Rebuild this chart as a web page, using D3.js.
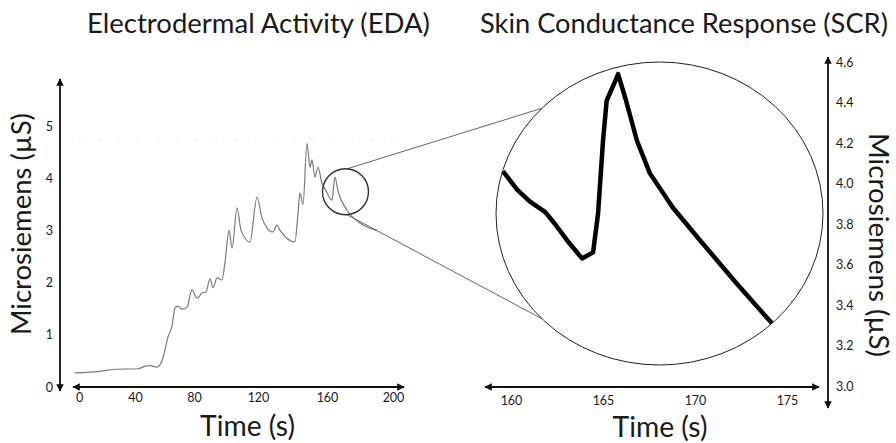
<!DOCTYPE html>
<html>
<head>
<meta charset="utf-8">
<script src="https://cdn.jsdelivr.net/npm/d3@7"></script>
<style>
  html, body { margin: 0; padding: 0; background: #fff; }
  svg { display: block; }
  text { font-family: Lato, "Open Sans", sans-serif; fill: #1a1a1a; }
</style>
</head>
<body>
<svg id="chart" width="896" height="443"></svg>
<script>
// EDA recording (left panel): time in seconds, conductance in microsiemens
const edaTime = [-3, 15, 26, 42, 47, 50, 55, 59, 62.4, 65.1,
  67.1, 69.2, 71.9, 75.3, 78.6, 81.9, 85, 87.5, 90, 91.9,
  94.4, 97.5, 99.4, 101.9, 103.8, 106.9, 109.4, 115, 119.4, 122.3,
  125.2, 128.7, 131, 132.8, 141.4, 143.2, 144.3, 146.1, 148.4, 150.1,
  151.3, 153, 154.8, 157.1, 158.8, 163, 164.8, 166.7, 172.1, 180, 190.3];
const edaValue = [0.27, 0.30, 0.34, 0.35, 0.40, 0.41, 0.38, 0.56, 0.96, 1.17,
  1.51, 1.55, 1.49, 1.53, 1.86, 1.70, 1.80, 1.82, 2.07, 1.90,
  2.09, 2.05, 2.40, 3.00, 2.66, 3.43, 3.00, 2.78, 3.64, 3.24,
  3.05, 2.97, 3.10, 3.00, 2.78, 3.33, 3.72, 3.50, 4.67, 4.21,
  4.35, 4.02, 4.21, 3.90, 3.80, 3.58, 4.02, 3.75, 3.39, 3.14, 3.00];

// Single skin conductance response (right panel)
const scrTime = [159.57, 160.33, 161.03, 161.85, 162.39, 163.04, 163.86, 164.46, 164.73, 165.0,
  165.2, 165.54, 165.82, 166.25, 166.85, 167.55, 168.8, 170.27, 172.23, 174.18];
const scrValue = [4.06, 3.97, 3.91, 3.86, 3.80, 3.72, 3.63, 3.66, 3.85, 4.21,
  4.41, 4.48, 4.54, 4.41, 4.21, 4.05, 3.88, 3.72, 3.51, 3.31];

// Tick labels
const edaTimeTicks = [0, 40, 80, 120, 160, 200];
const edaValueTicks = [0, 1, 2, 3, 4, 5];
const scrTimeTicks = [160, 165, 170, 175];
const scrValueTicks = [3.0, 3.2, 3.4, 3.6, 3.8, 4.0, 4.2, 4.4, 4.6];

// Magnified window on the EDA trace
const zoomWindow = { time: 171.2, value: 3.74 };

const titles = ["Electrodermal Activity (EDA)", "Skin Conductance Response (SCR)"];
const xTitle = "Time (s)";
const yTitle = "Microsiemens (µS)";

const svg = d3.select("#chart");

// arrowhead marker
const defs = svg.append("defs");
defs.append("marker")
  .attr("id", "arrow")
  .attr("viewBox", "0 0 10 10")
  .attr("refX", 9).attr("refY", 5)
  .attr("markerWidth", 4.2).attr("markerHeight", 4.2)
  .attr("markerUnits", "strokeWidth")
  .attr("orient", "auto-start-reverse")
  .append("path")
  .attr("d", "M0,0 L10,5 L0,10 z")
  .attr("fill", "#111");

function fitWidth(sel, w) {
  const len = sel.node().getComputedTextLength();
  const fs = parseFloat(sel.attr("font-size"));
  sel.attr("font-size", fs * w / len);
}

function arrowLine(x1, y1, x2, y2, both) {
  const l = svg.append("line")
    .attr("x1", x1).attr("y1", y1).attr("x2", x2).attr("y2", y2)
    .attr("stroke", "#111").attr("stroke-width", 1.8)
    .attr("marker-end", "url(#arrow)");
  if (both) l.attr("marker-start", "url(#arrow)");
  return l;
}

function styleTicks(g) {
  g.select(".domain").remove();
  g.selectAll("text")
    .attr("font-size", 12.5)
    .attr("font-family", "Lato, sans-serif")
    .attr("fill", "#1a1a1a");
}

// ---------- Left panel: EDA ----------
const xL = d3.scaleLinear().domain(edaTimeTicks).range([79, 135, 194, 258, 327, 393]);
const yL = d3.scaleLinear().domain([0, 5]).range([387, 126]);

// faint reference dots
svg.append("line")
  .attr("x1", xL(0)).attr("x2", xL(200)).attr("y1", yL(4.73)).attr("y2", yL(4.73))
  .attr("stroke", "#e6e6e6").attr("stroke-width", 1).attr("stroke-dasharray", "1.5,18");

arrowLine(60, yL(0) + 4, 60, 79, true);
arrowLine(73, yL(0), 404, yL(0), true);

svg.append("g")
  .attr("transform", `translate(53,0)`)
  .call(d3.axisLeft(yL).tickValues(edaValueTicks).tickSize(0).tickPadding(0).tickFormat(d3.format("d")))
  .call(styleTicks);

svg.append("g")
  .attr("transform", `translate(0,${yL(0) + 6})`)
  .call(d3.axisBottom(xL).tickValues(edaTimeTicks).tickSize(0).tickPadding(0).tickFormat(d3.format("d")))
  .call(styleTicks);

const edaLine = d3.line()
  .x((d, i) => xL(edaTime[i]))
  .y(d => yL(d))
  .curve(d3.curveMonotoneX);

svg.append("path")
  .attr("d", edaLine(edaValue))
  .attr("fill", "none")
  .attr("stroke", "#7a7a7a")
  .attr("stroke-width", 1.2)
  .attr("stroke-linejoin", "round");

// ---------- Right panel: SCR ----------
const xR = d3.scaleLinear().domain([160, 175]).range([511, 787]);
const yR = d3.scaleLinear().domain([3.0, 4.6]).range([386, 62]);

arrowLine(828, yR(4.6) + 4, 828, 57, false);
arrowLine(828, yR(4.6) + 4, 828, 408, false);
arrowLine(485, yR(3.0) + 1, 819, yR(3.0) + 1, true);

svg.append("g")
  .attr("transform", `translate(836,0)`)
  .call(d3.axisRight(yR).tickValues(scrValueTicks).tickSize(0).tickPadding(0).tickFormat(d3.format(".1f")))
  .call(styleTicks);

svg.append("g")
  .attr("transform", `translate(0,${yR(3.0) + 10})`)
  .call(d3.axisBottom(xR).tickValues(scrTimeTicks).tickSize(0).tickPadding(0).tickFormat(d3.format("d")))
  .call(styleTicks);

// magnifier ellipse and the small circle on the EDA trace
const big = { cx: 659.5, cy: 213.5, rx: 163.5, ry: 151.5 };
const small = { cx: xL(zoomWindow.time), cy: yL(zoomWindow.value), r: 23 };

const ang = 136 * Math.PI / 180;
const topBig = [big.cx + big.rx * Math.cos(-ang), big.cy + big.ry * Math.sin(-ang)];
const botBig = [big.cx + big.rx * Math.cos(ang), big.cy + big.ry * Math.sin(ang)];
const sAng = 86 * Math.PI / 180;
const topSmall = [small.cx + small.r * Math.cos(-sAng), small.cy + small.r * Math.sin(-sAng)];
const botSmall = [small.cx + small.r * Math.cos(sAng), small.cy + small.r * Math.sin(sAng)];

svg.append("line")
  .attr("x1", topSmall[0]).attr("y1", topSmall[1]).attr("x2", topBig[0]).attr("y2", topBig[1])
  .attr("stroke", "#555").attr("stroke-width", 0.9);
svg.append("line")
  .attr("x1", botSmall[0]).attr("y1", botSmall[1]).attr("x2", botBig[0]).attr("y2", botBig[1])
  .attr("stroke", "#555").attr("stroke-width", 0.9);

svg.append("ellipse")
  .attr("cx", big.cx).attr("cy", big.cy).attr("rx", big.rx).attr("ry", big.ry)
  .attr("fill", "none").attr("stroke", "#222").attr("stroke-width", 1);

svg.append("circle")
  .attr("cx", small.cx).attr("cy", small.cy).attr("r", small.r)
  .attr("fill", "none").attr("stroke", "#333").attr("stroke-width", 1.4);

const scrLine = d3.line()
  .x((d, i) => xR(scrTime[i]))
  .y(d => yR(d))
  .curve(d3.curveLinear);

svg.append("path")
  .attr("d", scrLine(scrValue))
  .attr("fill", "none")
  .attr("stroke", "#000")
  .attr("stroke-width", 4.5)
  .attr("stroke-linejoin", "round")
  .attr("stroke-linecap", "butt");

// ---------- Titles ----------
const t1 = svg.append("text").text(titles[0])
  .attr("x", 258.5).attr("y", 33).attr("text-anchor", "middle").attr("font-size", 24);
fitWidth(t1, 343);
const t2 = svg.append("text").text(titles[1])
  .attr("x", 684).attr("y", 33).attr("text-anchor", "middle").attr("font-size", 24);
fitWidth(t2, 408);

const xt1 = svg.append("text").text(xTitle)
  .attr("x", 247.5).attr("y", 436).attr("text-anchor", "middle").attr("font-size", 24);
fitWidth(xt1, 95);
const xt2 = svg.append("text").text(xTitle)
  .attr("x", 660).attr("y", 437).attr("text-anchor", "middle").attr("font-size", 24);
fitWidth(xt2, 95);

const yt1 = svg.append("text").text(yTitle)
  .attr("text-anchor", "middle").attr("font-size", 24)
  .attr("transform", "translate(31,224) rotate(-90)");
fitWidth(yt1, 222);
const yt2 = svg.append("text").text(yTitle)
  .attr("text-anchor", "middle").attr("font-size", 24)
  .attr("transform", "translate(869,245) rotate(90)");
fitWidth(yt2, 224);
</script>
</body>
</html>
